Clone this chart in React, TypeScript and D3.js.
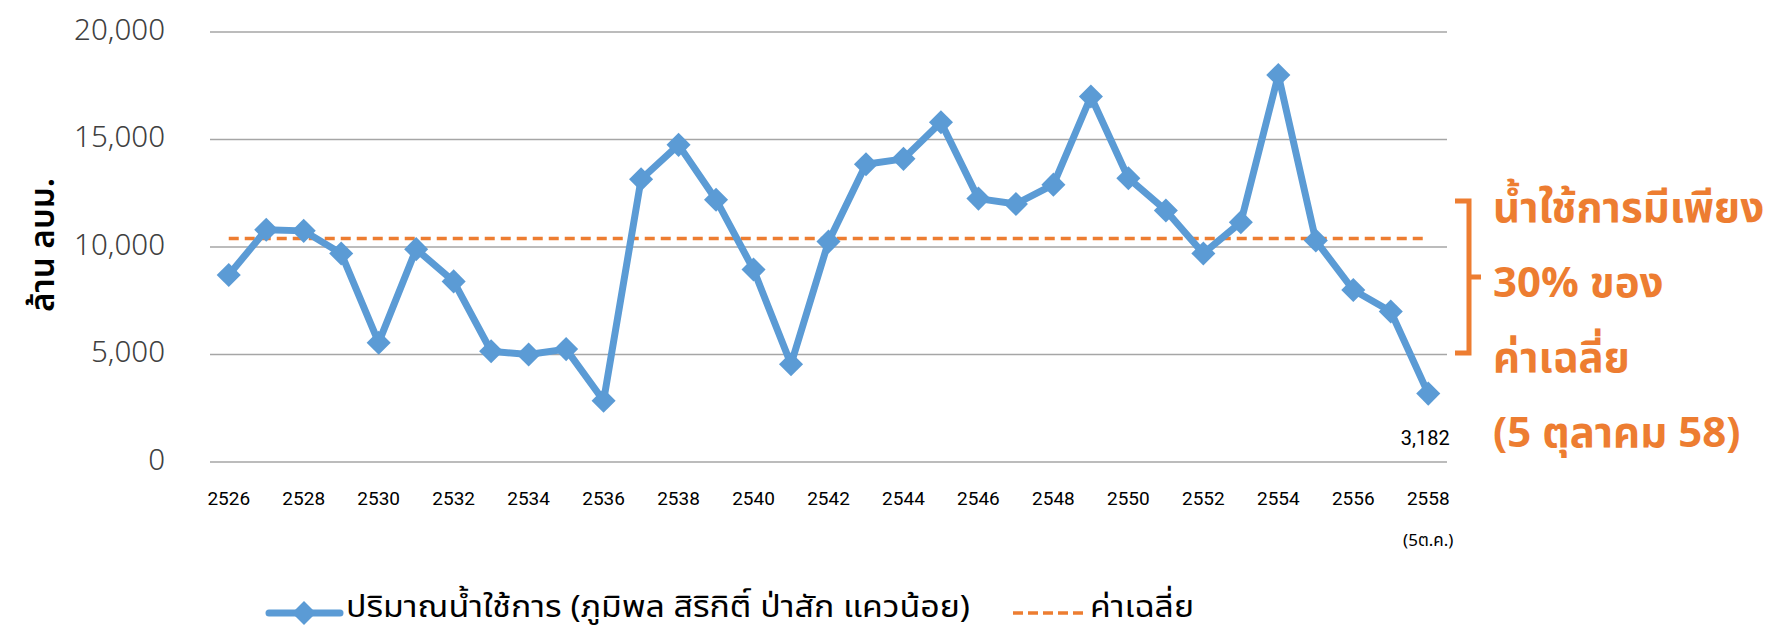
import * as d3 from 'd3';
import React, { useEffect, useRef } from 'react';

const years = [
  2526, 2527, 2528, 2529, 2530, 2531, 2532, 2533, 2534, 2535, 2536,
  2537, 2538, 2539, 2540, 2541, 2542, 2543, 2544, 2545, 2546, 2547,
  2548, 2549, 2550, 2551, 2552, 2553, 2554, 2555, 2556, 2557, 2558,
];
const usableWater = [
  8700, 10800, 10750, 9700, 5550, 9900, 8400, 5150, 5000, 5250, 2850,
  13150, 14750, 12200, 8950, 4550, 10250, 13850, 14100, 15800, 12250, 12000,
  12900, 17000, 13200, 11700, 9700, 11150, 18000, 10300, 8000, 7000, 3182,
];
const averageValue = 10400;
const yTicks = [0, 5000, 10000, 15000, 20000];
const xTickYears = years.filter((y) => (y - 2526) % 2 === 0);

const yTitle = 'ล้าน ลบม.';
const seriesName = 'ปริมาณน้ำใช้การ (ภูมิพล สิริกิติ์ ป่าสัก แควน้อย)';
const averageName = 'ค่าเฉลี่ย';
const lastValueLabel = '3,182';
const lastYearNote = '(5ต.ค.)';
const noteLines = ['น้ำใช้การมีเพียง', '30% ของ', 'ค่าเฉลี่ย', '(5 ตุลาคม 58)'];

const blue = '#5B9BD5';
const orange = '#ED7D31';
const thaiFont = '"Noto Sans Thai", "Noto Sans Thai UI", Tahoma, "Noto Sans", sans-serif';
const narrowFont = '"Liberation Sans Narrow", "Roboto", sans-serif';

const width = 1775;
const height = 633;

const App = () => {
  const svgRef = useRef(null);

  const renderSvg = () => {
    const svg = d3.select(svgRef.current);
    svg.selectAll('*').remove();

    const xScale = d3.scaleBand<number>().domain(years).range([210, 1447]);
    const yScale = d3.scaleLinear().domain([0, 20000]).range([462, 32]);
    const cx = (yr: number) => (xScale(yr) as number) + xScale.bandwidth() / 2;

    // gridlines
    svg
      .append('g')
      .selectAll('line')
      .data(yTicks)
      .enter()
      .append('line')
      .attr('x1', 210)
      .attr('x2', 1447)
      .attr('y1', (d) => yScale(d))
      .attr('y2', (d) => yScale(d))
      .style('stroke', '#A6A6A6')
      .style('stroke-width', 1.5);

    // y labels
    svg
      .append('g')
      .selectAll('text')
      .data(yTicks)
      .enter()
      .append('text')
      .attr('x', 165)
      .attr('y', (d) => yScale(d) - 4)
      .attr('text-anchor', 'end')
      .attr('dominant-baseline', 'central')
      .style('font-family', '"Noto Sans", sans-serif')
      .style('font-size', '29.5px')
      .style('font-weight', 300)
      .style('fill', '#404040')
      .text((d) => d3.format(',')(d));

    svg
      .append('text')
      .attr('transform', 'translate(43,245) rotate(-90)')
      .attr('text-anchor', 'middle')
      .attr('dominant-baseline', 'central')
      .attr('textLength', 134)
      .attr('lengthAdjust', 'spacingAndGlyphs')
      .style('font-family', thaiFont)
      .style('font-size', '34px')
      .style('font-weight', 600)
      .style('fill', '#000')
      .text(yTitle);

    // x labels
    svg
      .append('g')
      .selectAll('text')
      .data(xTickYears)
      .enter()
      .append('text')
      .attr('x', (d) => cx(d))
      .attr('y', 498)
      .attr('text-anchor', 'middle')
      .attr('dominant-baseline', 'central')
      .style('font-family', narrowFont)
      .style('font-size', '19px')
      .style('fill', '#000')
      .text((d) => d);

    svg
      .append('text')
      .attr('x', cx(2558))
      .attr('y', 541)
      .attr('text-anchor', 'middle')
      .attr('dominant-baseline', 'central')
      .style('font-family', thaiFont)
      .style('font-size', '17px')
      .style('fill', '#000')
      .text(lastYearNote);

    // average line
    svg
      .append('line')
      .attr('x1', cx(years[0]))
      .attr('x2', cx(years[years.length - 1]))
      .attr('y1', yScale(averageValue))
      .attr('y2', yScale(averageValue))
      .style('stroke', orange)
      .style('stroke-width', 3.5)
      .style('stroke-dasharray', '10,6');

    // series
    const line = d3
      .line<number>()
      .x((d, i) => cx(years[i]))
      .y((d) => yScale(d));

    svg
      .append('path')
      .datum(usableWater)
      .attr('d', line)
      .style('fill', 'none')
      .style('stroke', blue)
      .style('stroke-width', 7)
      .style('stroke-linejoin', 'round');

    const diamond = d3.symbol().type(d3.symbolSquare).size(290);

    svg
      .append('g')
      .selectAll('path')
      .data(usableWater)
      .enter()
      .append('path')
      .attr('d', diamond)
      .attr('transform', (d, i) => `translate(${cx(years[i])},${yScale(d)}) rotate(45)`)
      .style('fill', blue);

    svg
      .append('text')
      .attr('x', cx(2558) - 3)
      .attr('y', 438)
      .attr('text-anchor', 'middle')
      .attr('dominant-baseline', 'central')
      .style('font-family', narrowFont)
      .style('font-size', '20px')
      .style('fill', '#000')
      .text(lastValueLabel);

    // annotation bracket + note
    svg
      .append('path')
      .attr('d', 'M1455,201 L1469,201 L1469,353 L1455,353 M1469,277 L1481,277')
      .style('fill', 'none')
      .style('stroke', orange)
      .style('stroke-width', 5);

    svg
      .append('g')
      .selectAll('text')
      .data(noteLines)
      .enter()
      .append('text')
      .attr('x', 1493)
      .attr('y', (d, i) => 222 + i * 75)
      .style('font-family', thaiFont)
      .style('font-size', '42px')
      .style('font-weight', 'bold')
      .style('fill', orange)
      .text((d) => d);

    // legend
    const legend = svg.append('g');
    legend
      .append('line')
      .attr('x1', 269)
      .attr('x2', 340)
      .attr('y1', 613)
      .attr('y2', 613)
      .style('stroke', blue)
      .style('stroke-width', 7)
      .style('stroke-linecap', 'round');
    legend
      .append('path')
      .attr('d', diamond)
      .attr('transform', 'translate(304,613) rotate(45)')
      .style('fill', blue);
    legend
      .append('text')
      .attr('x', 346)
      .attr('y', 607)
      .attr('dominant-baseline', 'central')
      .attr('textLength', 624)
      .attr('lengthAdjust', 'spacingAndGlyphs')
      .style('font-family', thaiFont)
      .style('font-size', '31px')
      .style('fill', '#000')
      .text(seriesName);
    legend
      .append('line')
      .attr('x1', 1013)
      .attr('x2', 1087)
      .attr('y1', 613)
      .attr('y2', 613)
      .style('stroke', orange)
      .style('stroke-width', 3.5)
      .style('stroke-dasharray', '10,5');
    legend
      .append('text')
      .attr('x', 1090)
      .attr('y', 607)
      .attr('dominant-baseline', 'central')
      .attr('textLength', 104)
      .attr('lengthAdjust', 'spacingAndGlyphs')
      .style('font-family', thaiFont)
      .style('font-size', '31px')
      .style('fill', '#000')
      .text(averageName);
  };

  useEffect(() => {
    renderSvg();
  }, []);

  return (
    <svg
      ref={svgRef}
      width={width}
      height={height}
      style={{ position: 'absolute', left: 0, top: 0, background: '#fff' }}
    />
  );
};

export default App;
